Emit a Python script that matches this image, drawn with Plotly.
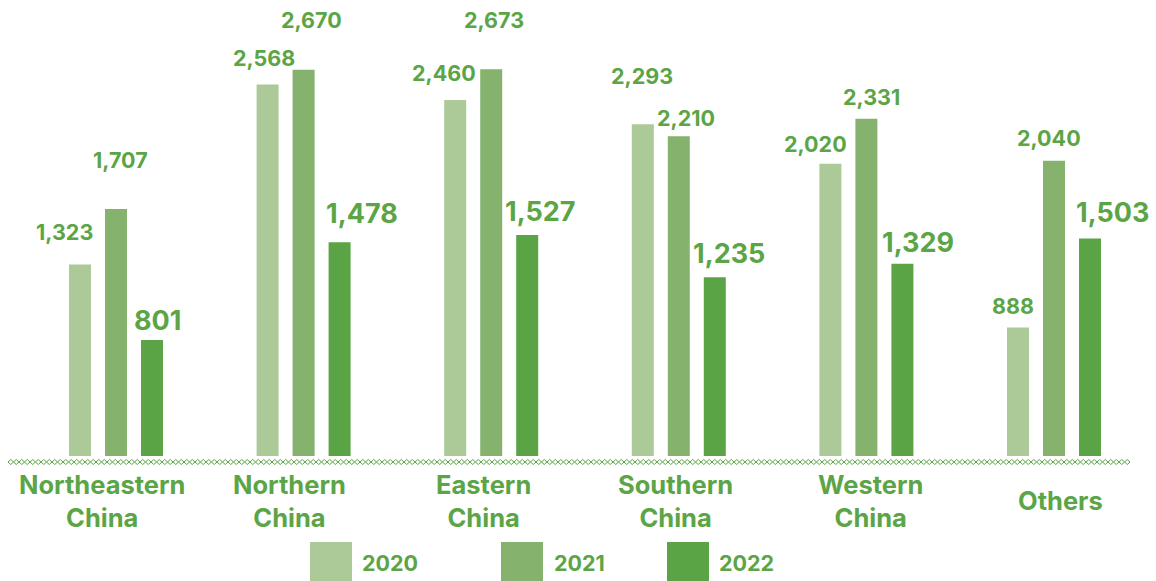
import plotly.graph_objects as go

# ---- data ----
regions = ["Northeastern<br>China", "Northern<br>China", "Eastern<br>China",
           "Southern<br>China", "Western<br>China", "Others"]
years = ["2020", "2021", "2022"]
v2020 = [1323, 2568, 2460, 2293, 2020, 888]
v2021 = [1707, 2670, 2673, 2210, 2331, 2040]
v2022 = [801, 1478, 1527, 1235, 1329, 1503]

# ---- styles ----
colors = ["#ABCA98", "#85B36D", "#5AA445"]
text_color = "#5BA546"
FONT = "Inter"
W, H = 1156, 581
PLOT_BOTTOM = 456  # pixel of baseline
bargap = 0.4243
bargroupgap = 0.389
label_sizes = [21.5, 21.5, 27]
# per-label pixel offsets (dx, dy above bar top)
label_offsets = [
    [(-16, 33), (-4, 26), (-11, 27), (-1, 48), (-15, 20), (-5, 22)],
    [(4, 49), (8, 50), (3, 49), (7, 18), (5, 22), (-5, 23)],
    [(5, 20), (22, 29), (13, 24), (14, 24), (16, 21), (22, 26)],
]
cat_shift = [-14, -14, -8, -3, 4, 6]

series = [v2020, v2021, v2022]
xs = list(range(len(regions)))

fig = go.Figure()
for k, (yr, vals) in enumerate(zip(years, series)):
    fig.add_trace(go.Bar(x=xs, y=vals, name=yr, marker_color=colors[k],
                         marker_line_width=0, showlegend=False, hoverinfo="skip"))

slot = (1 - bargap) / 3
annotations = []
for k, vals in enumerate(series):
    for i, v in enumerate(vals):
        dx, dy = label_offsets[k][i]
        annotations.append(dict(
            x=i + (k - 1) * slot, y=v, xref="x", yref="y",
            text=f"<b>{v:,}</b>", showarrow=False,
            xanchor="center", yanchor="middle", xshift=dx, yshift=dy,
            font=dict(family=FONT, size=label_sizes[k], color=text_color)))

def py2paper(py):
    return (PLOT_BOTTOM - py) / PLOT_BOTTOM

# category labels
for i, r in enumerate(regions):
    annotations.append(dict(
        x=i, y=py2paper(501), xref="x", yref="paper", text=f"<b>{r}</b>",
        showarrow=False, xanchor="center", yanchor="middle", xshift=cat_shift[i],
        font=dict(family=FONT, size=25.5, color=text_color)))

# custom legend
shapes = []
leg_sq = [(310, 352), (501, 543), (667, 709)]
leg_txt = [360, 552, 717]
for k, yr in enumerate(years):
    x0, x1 = leg_sq[k]
    shapes.append(dict(type="rect", xref="paper", yref="paper",
                       x0=x0 / W, x1=x1 / W, y0=py2paper(542), y1=py2paper(581),
                       fillcolor=colors[k], line=dict(width=0)))
    annotations.append(dict(
        x=leg_txt[k] / W, y=py2paper(563), xref="paper", yref="paper",
        text=f"<b>{yr}</b>", showarrow=False, xanchor="left", yanchor="middle",
        font=dict(family=FONT, size=21.5, color=text_color)))

# decorative diamond-chain baseline
x_start, x_end, period, cy, amp = 8, 1134, 5.5, 462, 2.5
n = int((x_end - x_start) / period)
up = f"M {x_start / W},{py2paper(cy)}"
dn = f"M {x_start / W},{py2paper(cy)}"
for j in range(n):
    xm = x_start + (j + 0.5) * period
    xe = x_start + (j + 1) * period
    up += f" L {xm / W},{py2paper(cy - amp)} L {xe / W},{py2paper(cy)}"
    dn += f" L {xm / W},{py2paper(cy + amp)} L {xe / W},{py2paper(cy)}"
for p in (up, dn):
    shapes.append(dict(type="path", xref="paper", yref="paper", path=p,
                       line=dict(color=colors[2], width=1)))

px_per_unit = 187.6
x0 = -116 / px_per_unit
fig.update_layout(
    width=W, height=H, autosize=False,
    margin=dict(l=0, r=0, t=0, b=H - PLOT_BOTTOM, pad=0),
    paper_bgcolor="white", plot_bgcolor="white",
    barmode="group", bargap=bargap, bargroupgap=bargroupgap,
    xaxis=dict(range=[x0, x0 + W / px_per_unit], visible=False, fixedrange=True),
    yaxis=dict(range=[0, PLOT_BOTTOM / 0.1447], visible=False, fixedrange=True),
    annotations=annotations, shapes=shapes, showlegend=False,
)
fig.write_html("out.html", config={"displayModeBar": False})
